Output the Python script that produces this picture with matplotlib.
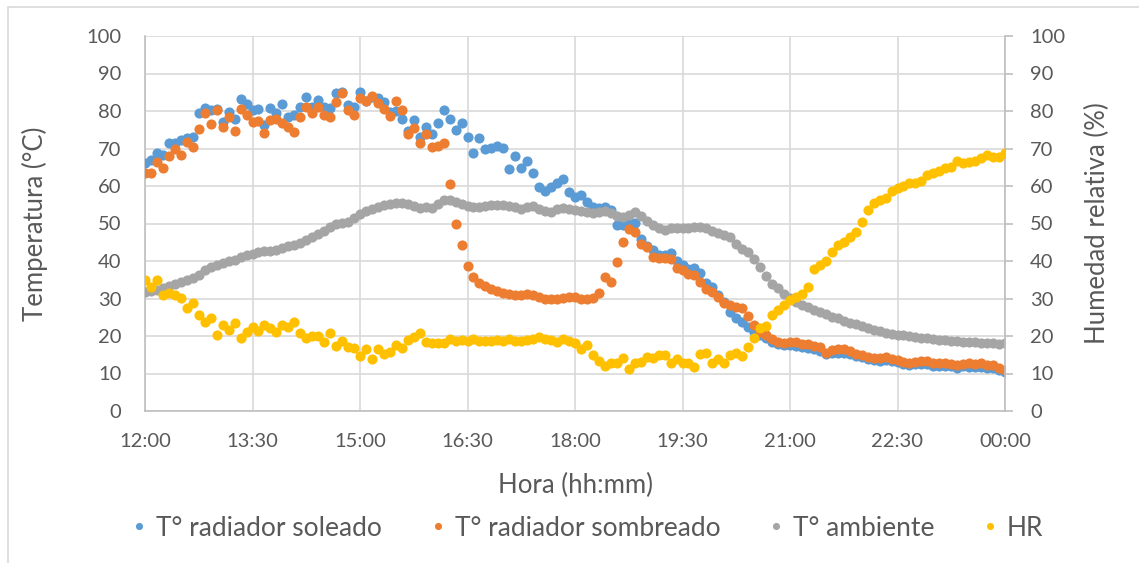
import numpy as np
import matplotlib
matplotlib.use("Agg")
import matplotlib.pyplot as plt
from matplotlib.patches import Rectangle

plt.rcParams['font.family'] = ['Lato', 'DejaVu Sans']

# readings every 5 minutes from 12:00 to 00:00
minutes = np.arange(0, 721, 5)
hour_ticks = np.arange(0, 721, 90)
hour_labels = ['12:00', '13:30', '15:00', '16:30', '18:00', '19:30', '21:00', '22:30', '00:00']

# T° radiador soleado (°C)
t_soleado = [
    66.1, 66.9, 68.8, 68.3, 71.5, 71.5, 72.3, 72.8, 73.0, 79.5, 80.8, 80.3, 80.5, 77.0, 79.7, 78.0,
    83.2, 82.0, 80.3, 80.5, 76.3, 80.8, 79.5, 82.0, 78.4, 79.0, 81.0, 83.7, 81.0, 82.9, 81.0, 80.8,
    84.8, 85.0, 81.6, 81.0, 85.0,
    82.7, 83.7, 83.5, 82.4, 79.7, 80.0, 78.0, 74.7, 77.6, 73.0, 75.7, 73.9, 76.8, 80.3, 77.9, 74.9,
    76.8, 73.0, 68.8, 72.8, 69.9, 70.1, 70.7, 70.1, 64.5, 68.0, 64.8, 66.7, 63.5, 59.7, 58.7, 59.7, 60.8,
    61.9, 58.4, 57.1, 57.6, 55.7, 54.4, 54.1, 54.4, 53.6, 49.6, 49.6, 50.4, 50.1, 45.9, 44.0, 42.9,
    41.6, 41.6, 42.1, 40.0, 38.9, 37.9, 38.1, 36.8, 34.1, 33.1, 30.9, 29.1, 26.4, 24.8, 23.7, 22.4, 21.1,
    20.3, 19.6, 18.5, 17.9, 17.7, 17.6, 17.4, 17.0, 16.9, 16.5, 16.1, 15.2, 15.4, 15.6, 15.5, 15.2,
    14.6, 14.3, 13.8, 13.5, 13.3, 13.5, 13.3, 13.0, 12.6, 12.3, 12.5, 12.6, 12.5, 12.1, 12.0, 12.1,
    11.9, 11.6, 11.9, 11.8, 11.7, 11.8, 11.5, 11.4, 10.9, 10.4,
]

# T° radiador sombreado (°C)
t_sombreado = [
    63.5, 63.5, 66.4, 64.8, 68.0, 69.9, 68.3, 71.7, 70.4, 75.2, 79.5, 76.5, 80.3, 75.7, 78.4, 74.7,
    80.5, 79.0, 77.0, 77.3, 74.1, 77.6, 77.9, 76.8, 75.7, 74.4, 78.4, 81.0, 79.5, 81.0, 79.0, 78.4,
    82.4, 84.8, 80.3, 79.0, 83.5,
    82.7, 84.0, 82.1, 80.5, 78.7, 82.7, 80.3, 73.9, 75.5, 71.5, 73.9, 70.4, 70.7, 71.5, 60.5, 49.9,
    44.3, 38.7, 35.7,
    34.2, 33.4, 32.6, 32.0, 31.6, 31.3, 31.0, 30.9, 31.1, 31.0, 30.4,
    29.9, 29.9, 29.9, 30.1, 30.4, 30.4, 29.9, 29.9, 30.1, 31.5, 35.7, 34.4, 39.7, 45.0, 48.5, 47.7,
    44.5, 43.7, 41.0, 40.8, 40.8, 40.5, 38.1, 37.6, 36.5, 36.3, 34.4, 32.5, 31.7, 30.4, 28.8, 28.3,
    27.7, 27.5, 25.3, 22.9,
    21.1, 20.2, 19.2, 18.5, 18.2, 18.4, 18.3, 17.9, 17.9, 17.4, 17.0, 15.6, 16.3, 16.5, 16.5, 16.0,
    15.3, 15.0, 14.4, 14.1, 14.1, 14.4, 14.0, 13.7, 13.2, 12.9, 13.2, 13.3, 13.3, 12.8, 12.8, 12.8,
    12.6, 12.4, 12.6, 12.7, 12.5, 12.7, 12.3, 12.3, 11.5, 10.9,
]

# T° ambiente (°C)
t_ambiente = [
    31.7, 32.0, 32.3, 32.8, 33.4, 34.0, 34.4, 34.9, 35.4, 36.2, 37.5, 38.3, 39.0, 39.5, 40.0, 40.3,
    41.0, 41.6, 42.0, 42.3, 42.6, 42.8, 43.0, 43.4, 43.9, 44.3, 44.8, 45.6, 46.5, 47.2, 48.0, 49.0,
    49.8, 50.2, 50.5, 51.5, 52.5, 53.3, 54.0, 54.5, 55.0, 55.2, 55.5, 55.4, 55.2, 54.6, 54.1, 54.5,
    54.1, 55.2, 56.2, 56.3, 55.8, 55.3, 54.8, 54.3, 54.5, 54.8, 54.9, 55.0, 54.9, 54.6, 54.3, 53.9,
    54.5, 54.8, 53.8, 53.3, 53.1, 53.8, 54.1, 54.0, 53.6, 53.3, 53.0, 52.8, 53.0, 53.3, 52.8, 51.9,
    51.7, 52.3, 53.1, 52.0, 50.6, 49.6, 48.8, 48.4, 48.7, 48.8, 48.8, 48.8, 49.0, 49.1, 48.7, 48.1,
    47.5, 47.0, 46.3, 44.5, 43.2, 42.3, 40.6, 38.5, 36.0, 34.0, 32.7, 31.2, 30.2, 29.0, 28.3, 27.7,
    27.0, 26.4, 25.9, 25.2, 24.7, 24.0, 23.5, 23.1, 22.7, 22.2, 21.7, 21.3, 20.9, 20.6, 20.4, 20.2,
    20.0, 19.8, 19.6, 19.5, 19.3, 19.0, 18.9, 18.7, 18.6, 18.5, 18.4, 18.3, 18.2, 18.1, 18.1, 18.0,
    18.2,
]

# HR (%)
humedad = [
    34.9, 33.1, 34.9, 30.9, 31.5, 30.9, 30.1, 27.5, 28.8, 25.6, 23.7, 24.8, 20.3, 22.9, 21.6, 23.5,
    19.5, 21.1, 22.4, 21.3, 22.9, 22.1, 21.1, 22.9, 22.4, 23.7, 20.8, 19.5, 20.0, 20.0, 18.4, 20.8,
    17.3, 18.7, 17.1, 16.8, 14.7,
    16.5, 13.9, 16.5, 15.2, 15.7, 17.6, 16.8, 18.9, 19.7, 20.8, 18.4, 18.1, 18.1, 18.1, 19.2, 18.7,
    18.9, 18.7, 19.2, 18.7, 18.7, 18.7, 18.9, 18.7, 19.2, 18.7, 18.7, 18.9, 19.2, 19.7, 19.2, 18.9, 18.4,
    19.2, 18.7, 18.1, 16.5, 17.6, 14.9, 13.3, 12.0, 12.8, 12.8, 14.1, 11.2, 12.8, 13.1, 14.4, 14.1,
    14.9, 14.9, 12.8, 13.9, 12.8, 12.8, 11.7, 15.2, 15.5, 12.8, 13.9, 12.8, 14.9, 15.5, 14.7, 17.1, 19.5,
    22.1, 22.7, 25.6, 26.9, 28.3, 29.6, 30.4, 31.2, 33.1, 37.9, 38.9, 40.0, 42.4, 44.3, 45.1, 46.4,
    47.7, 50.4, 53.6, 55.5, 56.3, 56.8, 58.7, 59.5, 60.0, 60.8, 60.8, 61.3, 62.9, 63.5, 64.0, 64.8,
    65.1, 66.7, 66.1, 66.4, 66.7, 67.5, 68.3, 67.7, 67.7, 68.8,
]

text_color = '#595959'
grid_color = '#D9D9D9'
axis_color = '#BFBFBF'
msize = 7.3

fig = plt.figure(figsize=(11.39, 5.63), dpi=100)
# thin frame around the chart area
fig.patches.append(Rectangle((8 / 1139, -0.1), 1.2, 1 - 7 / 563 + 0.1, transform=fig.transFigure,
                             fill=False, edgecolor=grid_color, linewidth=1.2))

ax = fig.add_axes([145 / 1139, 1 - 411 / 563, 860 / 1139, 375 / 563])
ax.plot(minutes, t_soleado, 'o', ms=msize, color='#5B9BD5', mec='none', label='T° radiador soleado', zorder=3)
ax.plot(minutes, t_sombreado, 'o', ms=msize, color='#ED7D31', mec='none', label='T° radiador sombreado', zorder=4)
ax.plot(minutes, t_ambiente, 'o', ms=msize, color='#A5A5A5', mec='none', label='T° ambiente', zorder=5)

ax.set_xlim(0, 720)
ax.set_ylim(0, 100)
ax.set_yticks(np.arange(0, 101, 10))
ax.set_xticks(hour_ticks)
ax.set_xticklabels(hour_labels)
ax.grid(True, color=grid_color, linewidth=1.2)
ax.set_axisbelow(True)
for side in ['top', 'right']:
    ax.spines[side].set_visible(False)
for side in ['left', 'bottom']:
    ax.spines[side].set_color(axis_color)
    ax.spines[side].set_linewidth(1.2)
ax.tick_params(axis='y', length=0, pad=17, labelsize=14.5, labelcolor=text_color)
ax.tick_params(axis='x', length=0, pad=16, labelsize=14.5, labelcolor=text_color)
ax.set_ylabel('Temperatura (°C)', fontsize=18.5, color=text_color)
ax.yaxis.set_label_coords(-0.113, 0.5)
ax.set_xlabel('Hora (hh:mm)', fontsize=18.5, color=text_color)
ax.xaxis.set_label_coords(0.5, -0.165)

# relative humidity on the secondary axis
ax2 = ax.twinx()
ax2.plot(minutes, humedad, 'o', ms=msize, color='#FFC000', mec='none', label='HR', zorder=6)
ax2.set_ylim(0, 100)
ax2.set_yticks(np.arange(0, 101, 10))
for side in ['top', 'left', 'bottom']:
    ax2.spines[side].set_visible(False)
ax2.spines['right'].set_color(axis_color)
ax2.spines['right'].set_linewidth(1.2)
ax2.tick_params(axis='y', length=6, width=1.2, color=axis_color, pad=12, labelsize=14.5, labelcolor=text_color)
ax2.set_ylabel('Humedad relativa (%)', fontsize=18.5, color=text_color)
ax2.yaxis.set_label_coords(1.093, 0.5)

handles = ax.get_lines() + ax2.get_lines()
fig.legend(handles, [h.get_label() for h in handles], loc='center', bbox_to_anchor=(588 / 1139, 1 - 528 / 563),
           ncol=4, frameon=False, fontsize=19, labelcolor=text_color, markerscale=0.7,
           handlelength=0.5, handletextpad=0.4, columnspacing=1.85)

fig.savefig('out.png', dpi=100)
